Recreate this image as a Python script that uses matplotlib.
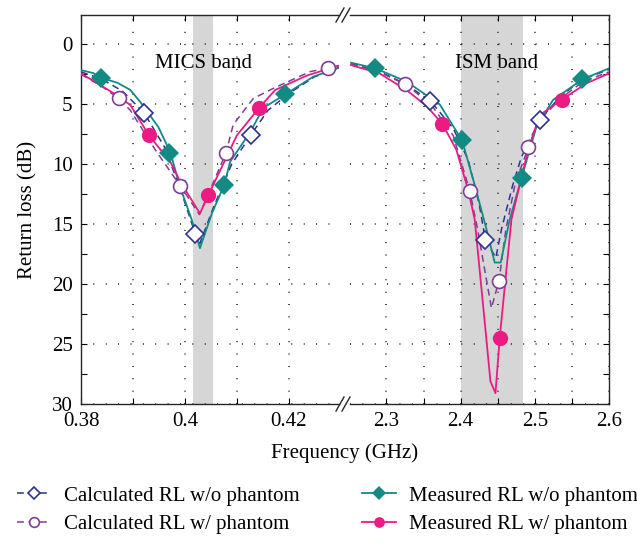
import matplotlib
matplotlib.use("Agg")
import matplotlib.pyplot as plt
from matplotlib.lines import Line2D
from matplotlib.ticker import MultipleLocator, FixedLocator

plt.rcParams['font.family'] = ['Liberation Serif', 'DejaVu Serif']
plt.rcParams['font.size'] = 15

# ---- data: MICS region (GHz, dB) ----
calc_wo_lo_f = [0.380, 0.3840, 0.3880, 0.3922, 0.3960, 0.3990, 0.4020, 0.4029, 0.4055, 0.4090, 0.4127, 0.4160, 0.4200, 0.4250, 0.4300]
calc_wo_lo_rl = [2.3, 2.9, 3.9, 5.75, 8.5, 11.9, 15.8, 16.6, 13.6, 10.0, 7.56, 5.5, 4.1, 2.7, 1.9]
calc_w_lo_f = [0.380, 0.3840, 0.3872, 0.3895, 0.3943, 0.3991, 0.4028, 0.4079, 0.4093, 0.4132, 0.4177, 0.4241, 0.4276, 0.4300]
calc_w_lo_rl = [2.5, 3.5, 4.5, 5.5, 8.8, 11.8, 14.2, 9.08, 6.7, 4.5, 3.53, 2.28, 1.95, 1.75]
meas_wo_lo_f = [0.380, 0.3824, 0.3838, 0.3870, 0.3895, 0.3914, 0.3949, 0.3972, 0.3990, 0.4013, 0.4029, 0.4052, 0.4076, 0.4087, 0.4126, 0.4151, 0.4196, 0.4247, 0.4300]
meas_wo_lo_rl = [2.15, 2.4, 2.78, 3.2, 3.8, 4.8, 6.9, 9.0, 11.8, 14.6, 17.0, 14.1, 11.7, 9.8, 7.3, 5.3, 4.1, 2.7, 1.87]
meas_w_lo_f = [0.380, 0.3863, 0.3895, 0.3931, 0.3972, 0.3991, 0.4029, 0.4045, 0.4100, 0.4143, 0.4174, 0.4235, 0.4300]
meas_w_lo_rl = [2.42, 4.08, 5.06, 7.6, 9.8, 11.45, 14.1, 12.6, 7.6, 5.28, 3.8, 2.6, 1.72]

# ---- data: ISM region (GHz, dB) ----
calc_wo_hi_f = [2.2523, 2.2900, 2.3256, 2.3593, 2.3900, 2.4100, 2.4250, 2.4334, 2.4475, 2.4550, 2.4700, 2.4820, 2.5066, 2.5350, 2.5650, 2.6]
calc_wo_hi_rl = [1.6, 2.25, 3.3, 4.72, 7.0, 9.6, 13.3, 16.3, 17.8, 15.45, 11.8, 9.4, 6.3, 4.3, 2.9, 2.1]
calc_w_hi_f = [2.2523, 2.2900, 2.3256, 2.3600, 2.3900, 2.4123, 2.4230, 2.4415, 2.4518, 2.4610, 2.4740, 2.4914, 2.5066, 2.5350, 2.5650, 2.6]
calc_w_hi_rl = [1.65, 2.3, 3.33, 5.0, 7.6, 12.2, 15.45, 22.0, 19.7, 15.45, 11.5, 8.6, 6.3, 4.5, 3.1, 2.3]
meas_wo_hi_f = [2.2523, 2.2852, 2.3270, 2.3718, 2.4019, 2.4180, 2.4348, 2.4460, 2.4540, 2.4662, 2.4823, 2.5022, 2.5245, 2.5641, 2.6]
meas_wo_hi_rl = [1.53, 2.0, 3.1, 5.0, 8.0, 11.5, 15.4, 18.2, 18.2, 14.6, 11.1, 6.87, 4.64, 2.92, 2.0]
meas_w_hi_f = [2.2523, 2.2900, 2.3270, 2.3550, 2.3755, 2.3943, 2.4100, 2.4190, 2.4302, 2.4402, 2.4470, 2.4527, 2.4685, 2.4914, 2.5067, 2.5367, 2.5695, 2.6]
meas_w_hi_rl = [1.73, 2.4, 3.8, 5.2, 6.64, 8.8, 12.1, 14.6, 21.7, 28.1, 29.1, 24.5, 14.6, 8.7, 5.9, 4.6, 3.25, 2.42]

# marker positions (symbols sit on the curves)
calc_wo_mk_f = [0.39217, 0.40198, 0.4127, 2.3593, 2.4334, 2.5066]
calc_wo_mk_rl = [5.75, 15.8, 7.56, 4.72, 16.3, 6.3]
calc_w_mk_f = [0.38723, 0.3991, 0.40788, 0.4276, 2.3256, 2.4123, 2.4518, 2.4914]
calc_w_mk_rl = [4.5, 11.8, 9.08, 1.95, 3.33, 12.2, 19.7, 8.6]
meas_wo_mk_f = [0.38385, 0.3970, 0.40756, 0.4193, 2.2852, 2.4019, 2.4828, 2.5641]
meas_wo_mk_rl = [2.78, 9.05, 11.7, 4.17, 2.0, 8.0, 11.15, 2.92]
meas_w_mk_f = [0.39313, 0.40454, 0.41435, 2.3755, 2.4527, 2.5367]
meas_w_mk_rl = [7.6, 12.6, 5.28, 6.64, 24.5, 4.6]

labels = ['Calculated RL w/o phantom', 'Calculated RL w/ phantom',
          'Measured RL w/o phantom', 'Measured RL w/ phantom']
mics_band = (0.4015, 0.4054)
ism_band = (2.4, 2.4835)

c_blue = '#2e3192'
c_purple = '#7d3f98'
c_teal = '#138a84'
c_pink = '#ec1b84'

W, H = 637, 538
fig = plt.figure(figsize=(W / 100, H / 100), dpi=100)
ax_bot, ax_h = 1 - 404 / H, 389 / H
ax1 = fig.add_axes([81 / W, ax_bot, (339 - 81) / W, ax_h])
ax2 = fig.add_axes([350 / W, ax_bot, (609 - 350) / W, ax_h])

ax1.set_xlim(0.38, 0.38 + (339 - 80.7) / 5200)
ax2.set_xlim(2.6 - (609 - 350) / 742, 2.6)

styles = [
    dict(color=c_blue, ls=(0, (4.5, 3)), lw=1.1, marker='D', mfc='white', ms=9, mew=1.2),
    dict(color=c_purple, ls=(0, (4.5, 3)), lw=1.1, marker='o', mfc='white', ms=10, mew=1.2),
    dict(color=c_teal, ls='-', lw=1.3, marker='D', mfc=c_teal, ms=10, mew=0),
    dict(color=c_pink, ls='-', lw=1.3, marker='o', mfc=c_pink, ms=11, mew=0),
]
lo = [(calc_wo_lo_f, calc_wo_lo_rl), (calc_w_lo_f, calc_w_lo_rl),
      (meas_wo_lo_f, meas_wo_lo_rl), (meas_w_lo_f, meas_w_lo_rl)]
hi = [(calc_wo_hi_f, calc_wo_hi_rl), (calc_w_hi_f, calc_w_hi_rl),
      (meas_wo_hi_f, meas_wo_hi_rl), (meas_w_hi_f, meas_w_hi_rl)]
mk = [(calc_wo_mk_f, calc_wo_mk_rl), (calc_w_mk_f, calc_w_mk_rl),
      (meas_wo_mk_f, meas_wo_mk_rl), (meas_w_mk_f, meas_w_mk_rl)]

handles = []
for i, st in enumerate(styles):
    for ax, (f, rl) in ((ax1, lo[i]), (ax2, hi[i])):
        ln, = ax.plot(f, rl, color=st['color'], ls=st['ls'], lw=st['lw'], zorder=3)
    mlines = []
    for ax in (ax1, ax2):
        m, = ax.plot(mk[i][0], mk[i][1], ls='none', marker=st['marker'], ms=st['ms'],
                     mfc=st['mfc'], mec=st['color'], mew=st['mew'], zorder=5 + i)
        mlines.append(m)
    handles.append((ln, mlines[0]))

ax1.axvspan(*mics_band, color='#d6d6d6', lw=0, zorder=0)
ax2.axvspan(*ism_band, color='#d6d6d6', lw=0, zorder=0)
ax1.text(0.4035, 1.6, 'MICS band', ha='center', va='center')
ax2.text(2.4487, 1.6, 'ISM band', ha='center', va='center')

grid_kw = dict(color='black', lw=1.1, ls=(0, (0.6, 7.5)))
for ax in (ax1, ax2):
    ax.set_ylim(30, -2.45)
    ax.yaxis.set_major_locator(MultipleLocator(5))
    ax.yaxis.set_minor_locator(MultipleLocator(2.5))
    ax.tick_params(which='both', direction='in', length=4.5, width=0.8, top=True, pad=6)
    ax.grid(True, which='major', axis='y', **grid_kw)
    ax.grid(True, which='both', axis='x', **grid_kw)
    ax.set_axisbelow(True)
    for s in ax.spines.values():
        s.set_linewidth(1.0)
        s.set_color('0.15')

ax1.xaxis.set_major_locator(FixedLocator([0.38, 0.40, 0.42]))
ax1.xaxis.set_minor_locator(FixedLocator([0.39, 0.41]))
ax1.set_xticklabels(['0.38', '0.4', '0.42'])
ax1.spines['right'].set_visible(False)
ax1.tick_params(which='both', right=False)

ax2.xaxis.set_major_locator(FixedLocator([2.3, 2.4, 2.5, 2.6]))
ax2.xaxis.set_minor_locator(FixedLocator([2.35, 2.45, 2.55]))
ax2.set_xticklabels(['2.3', '2.4', '2.5', '2.6'])
ax2.spines['left'].set_visible(False)
ax2.tick_params(which='both', left=False, right=True, labelleft=False)

ax1.set_ylabel('Return loss (dB)', labelpad=10)
fig.text(345 / W, 1 - 453 / H, 'Frequency (GHz)', ha='center', va='center')

# break marks on the axis
for py in (15, 404):
    for dx in (0, 6):
        x0, x1 = 336 + dx, 344 + dx
        fig.add_artist(Line2D([x0 / W, x1 / W], [1 - (py + 7) / H, 1 - (py - 7) / H],
                              transform=fig.transFigure, color='0.15', lw=1.0))

fig.legend(handles, labels, ncol=2, loc='upper left', bbox_to_anchor=(17 / W, 1 - 486 / H),
           frameon=False, fontsize=15, handlelength=1.65, handletextpad=0.6,
           columnspacing=3.0, labelspacing=0.42, borderpad=0, borderaxespad=0,
           markerscale=0.7)

fig.savefig('out.png', dpi=100)
